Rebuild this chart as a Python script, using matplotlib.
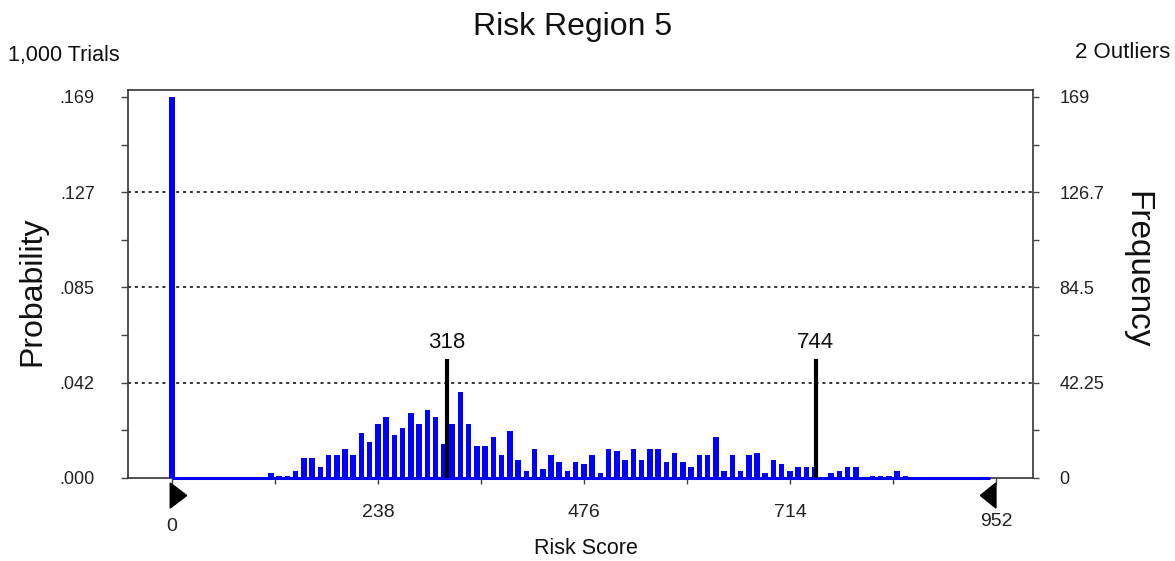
import matplotlib
matplotlib.use("Agg")
import matplotlib.pyplot as plt
import matplotlib.transforms as mtransforms
from matplotlib.patches import Polygon
import numpy as np

plt.rcParams["font.family"] = ["Liberation Sans", "DejaVu Sans"]

# Frequency per bin of the simulated risk score (1,000 trials, 2 outliers dropped)
freq = [
    169, 0, 0, 0, 0, 0, 0, 0, 0, 0, 0, 0,
    2, 1, 1, 3, 9, 9, 5, 10, 10, 13, 10, 20, 16, 24, 27, 19, 22, 29, 24, 30, 27,
    15, 24, 38, 24, 14, 14, 18, 10, 21, 8, 3, 13, 4, 10, 7, 3, 7, 6, 10, 2, 13,
    12, 8, 13, 8, 13, 13, 7, 11, 7, 5, 10, 10, 18, 3, 10, 3, 10,
    11, 2, 8, 6, 3, 5, 5, 5, 0, 2, 3, 5, 5, 0, 1, 1, 1, 3, 1,
]
bin_width = 9.52
scores = np.arange(len(freq)) * bin_width

n_trials = 1000
n_outliers = 2
certainty_bounds = [318, 744]
bound_height = 53

x_major = [0, 238, 476, 714, 952]
x_minor = [119, 357, 595, 833]
freq_ticks = [0, 42.25, 84.5, 126.75, 169]
freq_minor = [21.125, 63.375, 105.625, 147.875]
prob_labels = [".000", ".042", ".085", ".127", ".169"]
freq_labels = ["0", "42.25", "84.5", "126.7", "169"]

W, H = 1175, 561
fig = plt.figure(figsize=(W / 100, H / 100), dpi=100)
fig.patch.set_facecolor("white")

ax_l, ax_r, ax_t, ax_b = 128, 1033, 90, 478
ax = fig.add_axes([ax_l / W, 1 - ax_b / H, (ax_r - ax_l) / W, (ax_b - ax_t) / H])
ax.set_xlim(-50.8, 994.8)
ax.set_ylim(0, 172.1)

# histogram bars
ax.bar(scores, freq, width=6.4, color="#0000ff", align="center", zorder=3)
ax.plot([0, 945], [0, 0], color="#0000ff", lw=2.2, zorder=4, clip_on=False,
        solid_capstyle="butt")

# dotted reference lines
for g in freq_ticks[1:-1]:
    ax.axhline(g, color="black", lw=1.1, ls=(0, (2, 2.5)), zorder=1)

# certainty range markers
for b in certainty_bounds:
    ax.vlines(b, 0, bound_height, color="black", lw=3, zorder=5)
    ax.text(b, bound_height + 2.5, str(b), ha="center", va="bottom",
            fontsize=16, color="#111111", zorder=6)

# spines
for s in ax.spines.values():
    s.set_color("#333333")
    s.set_linewidth(1.2)

tick_color = "#222222"
# x axis
ax.set_xticks(x_major, [str(v) for v in x_major])
ax.set_xticks(x_minor, minor=True)
ax.tick_params(axis="x", which="both", direction="out", length=4, width=1,
               color="#444444", labelsize=14, labelcolor=tick_color, pad=15)
xt = ax.xaxis.get_major_ticks()
xt[0].set_pad(25)
xt[-1].set_pad(21)

# left probability axis
ax.set_yticks(freq_ticks, prob_labels)
ax.set_yticks(freq_minor, minor=True)
ax.tick_params(axis="y", which="both", direction="out", length=5, width=1,
               color="#444444", labelsize=13, labelcolor=tick_color, pad=19)

# right frequency axis
ax2 = ax.twinx()
ax2.set_ylim(ax.get_ylim())
ax2.set_yticks(freq_ticks, freq_labels)
ax2.set_yticks(freq_minor, minor=True)
ax2.tick_params(axis="y", which="both", direction="out", length=4, width=1,
                color="#444444", labelsize=13, labelcolor=tick_color, pad=15)
for s in ax2.spines.values():
    s.set_visible(False)

# end-point triangles below the axis
axh = ax_b - ax_t
trans = mtransforms.blended_transform_factory(ax.transData, ax.transAxes)
tri_top, tri_bot, tri_mid = -5 / axh, -30 / axh, -17.5 / axh
ax.add_patch(Polygon([(-2, tri_top), (-2, tri_bot), (17, tri_mid)], closed=True,
                     color="black", transform=trans, clip_on=False, zorder=6))
ax.add_patch(Polygon([(952, tri_top), (952, tri_bot), (934, tri_mid)], closed=True,
                     color="black", transform=trans, clip_on=False, zorder=6))


def ftext(x, y, s, **kw):
    fig.text(x / W, 1 - y / H, s, **kw)


ftext(573, 27, "Risk Region 5", ha="center", va="center", fontsize=23, color="#111111")
ftext(8, 55, f"{n_trials:,} Trials", ha="left", va="center", fontsize=15.5, color="#111111")
ftext(1170, 52, f"{n_outliers} Outliers", ha="right", va="center", fontsize=16, color="#111111")
ftext(32, 291, "Probability", ha="center", va="center", rotation=90, fontsize=23, color="#111111")
ftext(1137, 270, "Frequency", ha="center", va="center", rotation=270, fontsize=24, color="#111111")
ftext(586, 548, "Risk Score", ha="center", va="center", fontsize=15.5, color="#111111")

fig.savefig("out.png", dpi=100, facecolor="white")
